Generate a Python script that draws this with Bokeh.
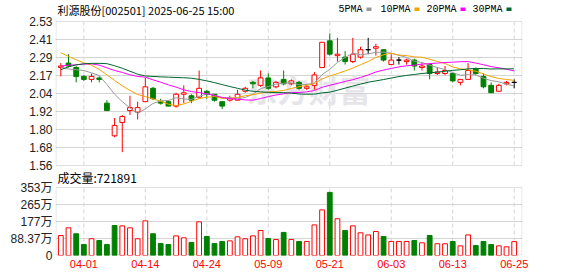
from bokeh.plotting import figure
from bokeh.models import ColumnDataSource, FixedTicker, Label, BoxAnnotation, Range1d
from bokeh.embed import file_html
from bokeh.resources import INLINE

# ---------------- data ----------------
dates = ["03-27", "03-28", "03-31", "04-01", "04-02", "04-03", "04-07", "04-08", "04-09", "04-10",
         "04-11", "04-14", "04-15", "04-16", "04-17", "04-18", "04-21", "04-22", "04-23", "04-24",
         "04-25", "04-28", "04-29", "04-30", "05-06", "05-07", "05-08", "05-09", "05-12", "05-13",
         "05-14", "05-15", "05-16", "05-19", "05-20", "05-21", "05-22", "05-23", "05-26", "05-27",
         "05-28", "05-29", "05-30", "06-03", "06-04", "06-05", "06-06", "06-09", "06-10", "06-11",
         "06-12", "06-13", "06-16", "06-17", "06-18", "06-19", "06-20", "06-23", "06-24", "06-25"]

opens = [2.22, 2.25, 2.22, 2.16, 2.14, 2.15, 1.98, 1.76, 1.85, 1.93,
         1.92, 1.99, 2.08, 1.99, 1.99, 1.96, 2.04, 2.03, 2.02, 2.06,
         2.04, 1.99, 2.00, 2.00, 2.06, 2.12, 2.10, 2.15, 2.09, 2.14,
         2.11, 2.12, 2.08, 2.10, 2.22, 2.40, 2.30, 2.29, 2.26, 2.29,
         2.34, 2.35, 2.34, 2.24, 2.27, 2.26, 2.27, 2.22, 2.24, 2.18,
         2.18, 2.18, 2.12, 2.14, 2.21, 2.16, 2.10, 2.06, 2.11, 2.12]
highs = [2.25, 2.31, 2.23, 2.17, 2.18, 2.16, 2.00, 1.88, 1.90, 2.03,
         1.99, 2.15, 2.09, 2.01, 2.00, 2.05, 2.10, 2.04, 2.20, 2.07,
         2.04, 1.99, 2.03, 2.07, 2.09, 2.13, 2.20, 2.18, 2.13, 2.20,
         2.14, 2.13, 2.11, 2.19, 2.39, 2.45, 2.42, 2.33, 2.42, 2.36,
         2.42, 2.38, 2.34, 2.31, 2.29, 2.28, 2.28, 2.25, 2.25, 2.22,
         2.23, 2.18, 2.14, 2.25, 2.22, 2.18, 2.12, 2.11, 2.13, 2.14]
lows = [2.16, 2.22, 2.12, 2.13, 2.12, 2.12, 1.93, 1.75, 1.65, 1.90,
        1.87, 1.99, 2.00, 1.97, 1.96, 1.95, 1.98, 1.98, 2.01, 2.01,
        1.99, 1.94, 1.99, 2.00, 2.05, 2.08, 2.09, 2.07, 2.08, 2.10,
        2.10, 2.07, 2.07, 2.07, 2.22, 2.30, 2.26, 2.24, 2.25, 2.28,
        2.31, 2.30, 2.26, 2.24, 2.24, 2.24, 2.20, 2.20, 2.14, 2.17,
        2.17, 2.12, 2.10, 2.14, 2.17, 2.08, 2.05, 2.06, 2.10, 2.08]
closes = [2.23, 2.23, 2.16, 2.14, 2.16, 2.14, 1.93, 1.83, 1.89, 1.95,
          1.95, 2.09, 2.01, 1.98, 1.96, 2.04, 2.05, 2.00, 2.08, 2.04,
          2.00, 1.96, 2.01, 2.04, 2.08, 2.11, 2.15, 2.08, 2.12, 2.11,
          2.13, 2.08, 2.09, 2.17, 2.39, 2.31, 2.31, 2.26, 2.31, 2.34,
          2.34, 2.36, 2.27, 2.27, 2.27, 2.27, 2.23, 2.23, 2.18, 2.19,
          2.20, 2.13, 2.14, 2.20, 2.18, 2.09, 2.05, 2.10, 2.12, 2.12]
prev_close_before_first = 2.22

# volume, in 万 (10k)
volumes = [104, 144, 113, 57, 87, 78, 57, 156, 154, 144,
           87, 180, 113, 62, 57, 102, 92, 68, 175, 99,
           62, 73, 76, 97, 87, 102, 130, 88, 83, 120,
           83, 73, 73, 159, 237, 328, 191, 130, 154, 118,
           107, 125, 99, 73, 73, 73, 78, 66, 104, 61,
           61, 73, 50, 107, 52, 73, 57, 50, 45, 72.19]

ma5 = [2.220, 2.210, 2.205, 2.200, 2.184, 2.166, 2.106, 2.040, 1.990, 1.948,
       1.910, 1.942, 1.978, 1.996, 1.998, 2.016, 2.008, 2.006, 2.026, 2.042,
       2.034, 2.016, 2.018, 2.010, 2.018, 2.040, 2.078, 2.092, 2.108, 2.114,
       2.118, 2.104, 2.106, 2.116, 2.172, 2.208, 2.254, 2.288, 2.316, 2.306,
       2.312, 2.322, 2.324, 2.316, 2.302, 2.288, 2.262, 2.254, 2.236, 2.220,
       2.206, 2.186, 2.168, 2.172, 2.170, 2.148, 2.132, 2.124, 2.108, 2.096]
ma10 = [2.320, 2.295, 2.272, 2.252, 2.236, 2.207, 2.171, 2.133, 2.097, 2.066,
        2.038, 2.024, 2.009, 1.993, 1.973, 1.963, 1.975, 1.992, 2.011, 2.020,
        2.025, 2.012, 2.012, 2.018, 2.030, 2.037, 2.047, 2.055, 2.059, 2.066,
        2.079, 2.091, 2.099, 2.112, 2.143, 2.163, 2.179, 2.197, 2.216, 2.239,
        2.260, 2.288, 2.306, 2.316, 2.304, 2.300, 2.292, 2.289, 2.276, 2.261,
        2.247, 2.224, 2.211, 2.204, 2.195, 2.177, 2.159, 2.146, 2.140, 2.133]
ma20 = [2.229, 2.236, 2.238, 2.243, 2.245, 2.236, 2.218, 2.200, 2.187, 2.171,
        2.160, 2.155, 2.137, 2.121, 2.103, 2.088, 2.070, 2.058, 2.051, 2.043,
        2.032, 2.018, 2.011, 2.006, 2.002, 2.000, 2.011, 2.024, 2.035, 2.043,
        2.052, 2.052, 2.056, 2.065, 2.087, 2.100, 2.113, 2.126, 2.138, 2.153,
        2.170, 2.190, 2.203, 2.214, 2.224, 2.232, 2.236, 2.243, 2.246, 2.250,
        2.254, 2.256, 2.259, 2.260, 2.250, 2.239, 2.226, 2.218, 2.208, 2.197]
ma30 = [2.205, 2.225, 2.238, 2.245, 2.248, 2.248, 2.246, 2.232, 2.215, 2.195,
        2.175, 2.163, 2.160, 2.157, 2.155, 2.153, 2.151, 2.148, 2.140, 2.130,
        2.118, 2.105, 2.092, 2.080, 2.068, 2.060, 2.056, 2.053, 2.051, 2.051,
        2.047, 2.042, 2.040, 2.041, 2.049, 2.054, 2.067, 2.081, 2.095, 2.108,
        2.121, 2.130, 2.139, 2.149, 2.159, 2.167, 2.173, 2.180, 2.184, 2.189,
        2.195, 2.201, 2.205, 2.211, 2.214, 2.213, 2.210, 2.211, 2.211, 2.211]

tick_dates = ["04-01", "04-14", "04-24", "05-09", "05-21", "06-03", "06-13", "06-25"]
price_min, price_max = 1.56, 2.53
price_ticks = [1.56, 1.68125, 1.8025, 1.92375, 2.045, 2.16625, 2.2875, 2.40875, 2.53]
price_tick_labels = ["1.56", "1.68", "1.80", "1.92", "2.04", "2.17", "2.29", "2.41", "2.53"]
vol_max = 353.48
vol_ticks = [0, 88.37, 176.74, 265.11, 353.48]
vol_tick_labels = ["0", "88.37万", "177万", "265万", "353万"]

title_text = "利源股份[002501] 2025-06-25 15:00"
vol_text = "成交量:721891"
ma_names = ["5PMA", "10PMA", "20PMA", "30PMA"]

# ---------------- styling / layout constants (pixels) ----------------
RED = "#ff0000"
GREEN = "#008000"
MA_COLORS = ["#999999", "#f4a300", "#ff00ff", "#00662e"]
GRID = "#d4d4d4"
BORDER = "#999999"
CJK = "'Noto Sans CJK SC'"
LAT = "'Liberation Sans', 'Noto Sans CJK SC'"

W, H = 578, 276
FL, FR = 55, 522            # frame left / right (canvas px)
FB = 255                    # frame bottom (canvas px); frame top = 0
PT, PB = 21, 165            # price panel top / bottom (canvas px)
VT, VB = 187, 255           # volume panel top / bottom (canvas px)
XR = (-0.69, 60.08)

def cx(px):   # canvas x px -> data x
    return XR[0] + (px - FL) / (FR - FL) * (XR[1] - XR[0])

pscale = (price_max - price_min) / (PB - PT)
def cy(py):   # canvas y px -> price coordinate
    return price_max - (py - PT) * pscale

vscale = vol_max / (VB - VT)
def vy(py):   # canvas y px -> volume coordinate
    return (VB - py) * vscale

def vol_to_px(v):
    return VB - v / vscale

n = len(dates)
xs = list(range(n))
tick_idx = [dates.index(d) for d in tick_dates]

cndl_color, cndl_fill = [], []
for o, c in zip(opens, closes):
    if c > o:
        cndl_color.append(RED); cndl_fill.append("white")
    elif c < o:
        cndl_color.append(GREEN); cndl_fill.append(GREEN)
    else:
        cndl_color.append("black"); cndl_fill.append("black")

prevs = [prev_close_before_first] + closes[:-1]
vol_color = [RED if c >= pc else GREEN for c, pc in zip(closes, prevs)]
vol_fill = ["white" if col == RED else GREEN for col in vol_color]

src = ColumnDataSource(dict(
    x=xs, open=opens, high=highs, low=lows, close=closes,
    top=[max(o, c) for o, c in zip(opens, closes)],
    bottom=[min(o, c) for o, c in zip(opens, closes)],
    color=cndl_color, fill=cndl_fill,
    vol=volumes, vcolor=vol_color, vfill=vol_fill,
    ma5=ma5, ma10=ma10, ma20=ma20, ma30=ma30,
))
k = len(tick_idx)
gsrc = ColumnDataSource(dict(x=tick_idx, p0=[price_min] * k, p1=[price_max] * k,
                             v0=[0] * k, v1=[vol_max] * k))

# ---------------- figure ----------------
p = figure(width=W, height=H, x_range=Range1d(*XR), y_range=Range1d(cy(FB), cy(0)),
           output_backend="svg", toolbar_location=None, title=None,
           min_border_left=FL, min_border_right=W - FR, min_border_top=0, min_border_bottom=H - FB)
p.extra_y_ranges = {"vol": Range1d(vy(FB), vy(0))}
p.background_fill_color = "white"
p.border_fill_color = "white"
p.outline_line_color = None

# left axis: price ticks of the upper panel + volume ticks of the lower panel
vol_tick_pos = [cy(vol_to_px(v)) for v in vol_ticks]
all_ticks = price_ticks + vol_tick_pos
overrides = dict(zip(price_ticks, price_tick_labels))
overrides.update(dict(zip(vol_tick_pos, vol_tick_labels)))
p.yaxis.ticker = FixedTicker(ticks=all_ticks)
p.yaxis.major_label_overrides = overrides
p.yaxis.axis_line_color = None
p.yaxis.major_tick_line_color = None
p.yaxis.minor_tick_line_color = None
p.yaxis.major_tick_out = 0
p.yaxis.major_label_standoff = 3
p.yaxis.major_label_text_font = LAT
p.yaxis.major_label_text_font_size = "12px"
p.yaxis.major_label_text_color = "#222222"

p.xaxis.ticker = FixedTicker(ticks=tick_idx)
p.xaxis.major_label_overrides = {i: d for i, d in zip(tick_idx, tick_dates)}
p.xaxis.axis_line_color = None
p.xaxis.major_tick_line_color = None
p.xaxis.minor_tick_line_color = None
p.xaxis.major_tick_out = 0
p.xaxis.major_label_standoff = 4
p.xaxis.major_label_text_font = "'Liberation Sans'"
p.xaxis.major_label_text_font_size = "11px"
p.xaxis.major_label_text_color = RED

p.ygrid.ticker = FixedTicker(ticks=price_ticks[1:-1] + vol_tick_pos[1:-1])
p.ygrid.grid_line_color = GRID
p.xgrid.visible = False

# vertical dashed date gridlines, one set per panel
p.segment(x0="x", y0="p0", x1="x", y1="p1", source=gsrc, line_color=GRID, line_dash="4 3", line_width=1)
p.segment(x0="x", y0="v0", x1="x", y1="v1", source=gsrc, line_color=GRID, line_dash="4 3",
          line_width=1, y_range_name="vol")

# panel borders
p.add_layout(BoxAnnotation(left=cx(FL + 0.5), right=cx(FR - 0.5), bottom=cy(PB), top=cy(PT),
                           fill_alpha=0, line_color=BORDER, line_width=1, level="underlay"))
p.add_layout(BoxAnnotation(left=cx(FL + 0.5), right=cx(FR - 0.5), bottom=vy(VB - 0.5), top=vy(VT),
                           y_range_name="vol", fill_alpha=0, line_color=BORDER, line_width=1,
                           level="underlay"))

# watermark
p.add_layout(Label(x=cx(308), y=cy(88), text="东方财富", text_font=CJK, text_font_size="31px",
                   text_font_style="bold", text_color="#e6e6ea", text_align="center",
                   text_baseline="middle", level="underlay"))

# candles
p.segment(x0="x", y0="low", x1="x", y1="high", color="color", line_width=1, source=src)
p.vbar(x="x", width=0.62, top="top", bottom="bottom", fill_color="fill",
       line_color="color", line_width=1, source=src)
for key, col in zip(["ma5", "ma10", "ma20", "ma30"], MA_COLORS):
    p.line(x="x", y=key, color=col, line_width=1, source=src)

# volume bars
p.vbar(x="x", width=0.62, top="vol", bottom=0, fill_color="vfill",
       line_color="vcolor", line_width=1, source=src, y_range_name="vol")

# title
p.add_layout(Label(x=cx(57), y=cy(9), text=title_text, text_font=CJK, text_font_size="11px",
                   text_color="black", text_align="left", text_baseline="middle"))

# MA legend
legend_px = [338, 380, 426, 472]
for name, col, lx in zip(ma_names, MA_COLORS, legend_px):
    p.add_layout(Label(x=cx(lx), y=cy(9), text=name, text_font="'Liberation Mono'",
                       text_font_size="10px", text_color="black",
                       text_align="left", text_baseline="middle"))
    sx = lx + len(name) * 6 + 4
    p.add_layout(BoxAnnotation(left=cx(sx), right=cx(sx + 5), bottom=cy(10.5), top=cy(7),
                               fill_color=col, fill_alpha=1, line_color=None))

# volume caption
p.add_layout(Label(x=cx(57), y=cy(176.5), text=vol_text, text_font=CJK, text_font_size="12px",
                   text_color="black", text_align="left", text_baseline="middle"))

open("out.html", "w").write(file_html(p, INLINE))
